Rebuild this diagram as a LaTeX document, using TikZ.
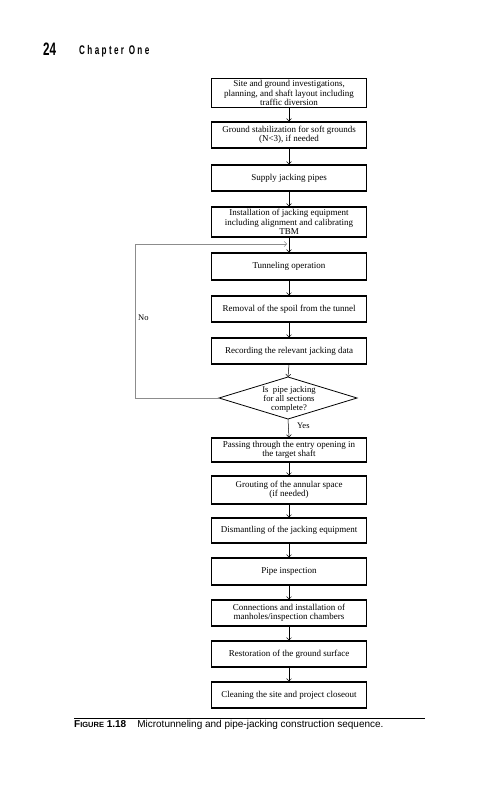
\documentclass[tikz,border=0pt]{standalone}
\usepackage{fontspec}
\setmainfont{Liberation Serif}
\newfontfamily\capfont{Liberation Sans}
\newfontfamily\numfont[FakeStretch=0.65]{Liberation Sans}
\newfontfamily\chapfont[FakeStretch=0.65,LetterSpace=19]{Liberation Sans}
\usetikzlibrary{shapes.geometric,arrows.meta}
\tikzset{
  box/.style={draw,line width=1.1pt,minimum width=155pt,minimum height=#1,inner sep=0pt,align=center,font=\fontsize{9}{9.3}\selectfont},
  decision/.style={draw,diamond,line width=0.8pt,minimum width=138pt,minimum height=42pt,inner sep=0pt,outer sep=0pt},
  dtext/.style={inner sep=0pt,align=center,font=\fontsize{8.7}{9}\selectfont},
  arr/.style={-{Straight Barb[length=2.5pt,width=5pt]},line width=0.5pt},
  loop/.style={arr,draw=black!45},
  lbl/.style={font=\fontsize{8.5}{9}\selectfont,inner sep=0pt}
}
\begin{document}
\begin{tikzpicture}[x=1pt,y=-1pt]
\useasboundingbox[fill=white] (0,0) rectangle (501,800);
% header
\node[anchor=base west,inner sep=0pt,font=\numfont\bfseries\fontsize{18}{18}\selectfont] (pg) at (43,56) {24};
\node[anchor=base west,inner sep=0pt,font=\chapfont\bfseries\fontsize{12.5}{12.5}\selectfont] (ch) at (79,54.5) {Chapter One};
% boxes
\node[box=29pt] (b1) at (289,93) {Site and ground investigations,\\planning, and shaft layout including\\traffic diversion};
\node[box=26pt] (b2) at (289,135) {Ground stabilization for soft grounds\\(N<3), if needed};
\node[box=26pt] (b3) at (289,178) {Supply jacking pipes};
\node[box=30pt] (b4) at (289,222) {Installation of jacking equipment\\including alignment and calibrating\\TBM};
\node[box=27pt] (b5) at (289,266.5) {Tunneling operation};
\node[box=26pt] (b6) at (289,309) {Removal of the spoil from the tunnel};
\node[box=26pt] (b7) at (289,351) {Recording the relevant jacking data};
\node[decision] (d) at (288,398) {};
\node[dtext] (dt) at (289,399.5) {Is\ \ pipe jacking\\for all sections\\complete?};
\node[box=24pt] (b9) at (289,450) {Passing through the entry opening in\\the target shaft};
\node[box=28pt] (b10) at (289,490) {Grouting of the annular space\\(if needed)};
\node[box=25pt] (b11) at (289,530.5) {Dismantling of the jacking equipment};
\node[box=27pt] (b12) at (289,571.5) {Pipe inspection};
\node[box=26pt] (b13) at (289,613) {Connections and installation of\\manholes/inspection chambers};
\node[box=26pt] (b14) at (289,654) {Restoration of the ground surface};
\node[box=26pt] (b15) at (289,695) {Cleaning the site and project closeout};
% arrows
\draw[arr] (b1) -- (b2);
\draw[arr] (b2) -- (b3);
\draw[arr] (b3) -- (b4);
\draw[arr] (b4) -- (b5);
\draw[arr] (b5) -- (b6);
\draw[arr] (b6) -- (b7);
\draw[arr] (b7.south) -- (d.north);
\draw[arr] (d.south) -- (b9.north);
\draw[arr] (b9) -- (b10);
\draw[arr] (b10) -- (b11);
\draw[arr] (b11) -- (b12);
\draw[arr] (b12) -- (b13);
\draw[arr] (b13) -- (b14);
\draw[arr] (b14) -- (b15);
% loop back
\coordinate (l1) at (135,398);
\coordinate (l2) at (135,244);
\coordinate (l3) at (287,244);
\draw[loop] (d.west) -- (l1) -- (l2) -- (l3);
\node[lbl,anchor=west] (no) at (138,318) {No};
\node[lbl,anchor=west] (yes) at (297,426) {Yes};
% caption
\draw[line width=0.8pt] (74,718) -- (425,718);
\node[anchor=base west,inner sep=0pt,font=\capfont\fontsize{10}{10}\selectfont] (cap) at (74,727.5) {{\bfseries F{\fontsize{7.5}{7.5}\selectfont IGURE} 1.18}\hspace{11pt}Microtunneling and pipe-jacking construction sequence.};
\end{tikzpicture}
\end{document}
